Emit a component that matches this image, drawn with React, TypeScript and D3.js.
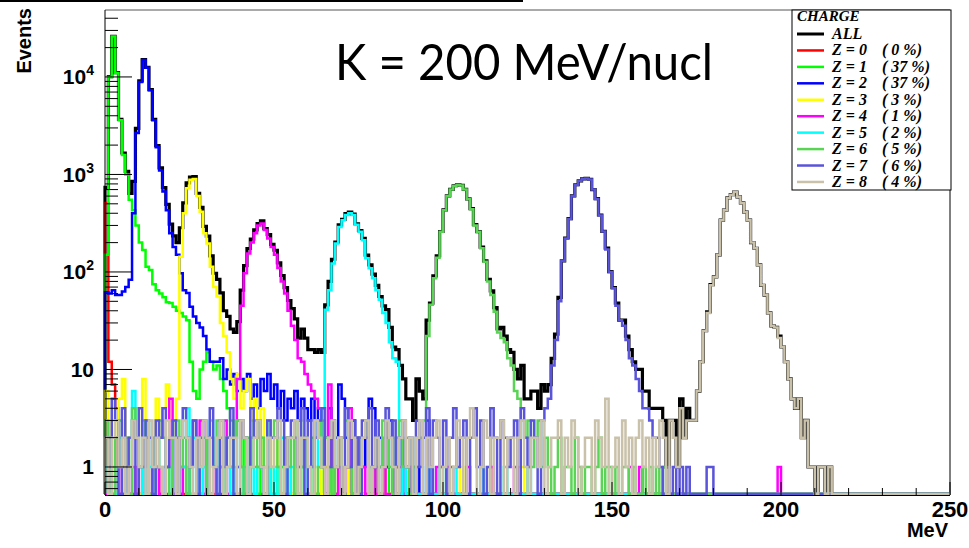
import React from 'react';
import * as d3 from 'd3';

// Energy deposit spectra per fragment charge, 1 MeV bins from 0 MeV.
const N_BINS = 250;
const BIN_WIDTH = 1;
const X_DOMAIN: [number, number] = [0, 250];
const Y_DOMAIN: [number, number] = [0.516, 48600];
const X_MAJOR = [0, 50, 100, 150, 200, 250];
const Y_MAJOR = [1, 10, 100, 1000, 10000];

const Z0 = [510, 12, 7, 4, 0, 0, 1, 0, 0, 0, 0, 0, 0, 0, 0, 1];

const Z1 = [
  150, 10000, 26000, 11000, 3600, 1580, 1000, 550, 430, 300,
  200, 168, 113, 105, 75, 65, 60, 55, 49, 48,
  44, 40, 38, 35, 32, 12, 6, 5, 10, 12,
  15, 12, 10, 11, 8, 6, 4, 3, 2, 3,
  1, 2, 0, 1, 1, 0, 2, 1, 0, 1,
  0, 1, 1, 0, 0, 2, 1, 0, 1, 0,
  0, 1, 0, 0, 1, 0, 0, 3, 0, 1,
  0, 0, 1, 0, 0, 1, 0, 0, 0, 1,
  0, 0, 0, 1,
];

const Z2 = [
  62, 60, 65, 58, 58, 63, 70, 83, 400, 2660,
  8900, 14900, 12400, 7300, 3600, 1900, 1100, 670, 430, 250,
  180, 150, 97, 65, 61, 44, 35, 30, 27, 22,
  16, 12, 12, 12, 13, 8, 10, 7, 9, 6,
  8, 6, 9, 5, 7, 4, 8, 6, 9, 5,
  7, 4, 6, 3, 5, 4, 6, 3, 5, 4,
  3, 5, 2, 4, 1, 2, 4, 3, 1, 7,
  5, 2, 1, 3, 0, 2, 1, 3, 5, 4,
  1, 2, 0, 1, 3, 0, 1, 2, 0, 1,
  0, 0, 1, 0, 0, 3, 1, 0, 0, 0,
];

const Z3 = [
  6, 2, 3, 0, 5, 8, 2, 1, 3, 4,
  0, 8, 2, 3, 1, 5, 2, 4, 7, 3,
  2, 5, 143, 400, 720, 880, 900, 600, 415, 250,
  196, 113, 70, 56, 30, 22, 15, 8, 5, 9,
  4, 6, 8, 3, 5, 2, 4, 1, 3, 1,
  2, 1, 0, 2, 1, 0, 1, 1, 0, 2,
  1, 0, 0, 1, 0, 1, 0, 0, 1, 0,
  0, 1, 0, 0, 0, 1, 0, 0, 0, 0,
  0, 0, 1, 0, 0, 0, 0, 1, 0, 0,
  0, 1, 0, 0, 0, 0, 0, 0, 0, 0,
  0, 0, 0, 0, 0, 1, 0, 0, 0, 0,
  0, 0, 0, 1, 1, 0, 0, 0, 0, 0,
  0, 0, 1, 1,
];

const Z4 = [
  0, 1, 0, 2, 1, 0, 1, 0, 1, 0,
  1, 0, 2, 0, 1, 1, 0, 0, 1, 5,
  0, 2, 0, 1, 0, 1, 3, 0, 3, 0,
  2, 0, 1, 0, 1, 3, 0, 1, 2, 8,
  45, 97, 155, 200, 250, 300, 315, 270, 220, 180,
  150, 110, 80, 60, 40, 28, 20, 13, 12, 9,
  7, 6, 5, 4, 1, 0, 7, 1, 0, 2,
  0, 1, 4, 0, 2, 1, 1, 0, 0, 1,
  0, 1, 1, 0, 0, 0, 1, 1, 0, 0,
  1, 0, 0, 0, 0, 0, 0, 0, 1, 0,
  0, 1, 1, 0, 0, 0, 0, 1, 0, 0,
  0, 0, 0, 0, 1, 0, 0, 0, 0, 0,
  0, 1, 0, 0, 0, 0, 0, 0, 0, 0,
  0, 0, 0, 0, 0, 0, 0, 0, 0, 0,
  0, 0, 0, 0, 0, 0, 0, 0, 0, 0,
  0, 0, 0, 0, 0, 1, 0, 0, 1, 0,
  0, 0, 0, 0, 0, 0, 0, 0, 0, 0,
  0, 0, 0, 0, 0, 0, 0, 0, 0, 0,
  0, 0, 0, 0, 0, 0, 0, 0, 0, 0,
  0, 0, 0, 0, 0, 0, 0, 0, 0, 1,
];

const Z5 = [
  1, 0, 1, 0, 2, 1, 0, 1, 6, 2,
  1, 0, 3, 1, 0, 2, 1, 0, 1, 0,
  2, 0, 1, 1, 4, 0, 2, 1, 0, 1,
  0, 3, 1, 0, 2, 0, 1, 0, 2, 1,
  0, 1, 0, 2, 0, 1, 1, 0, 3, 0,
  1, 0, 2, 1, 0, 1, 0, 0, 1, 2,
  0, 1, 3, 1, 4, 41, 65, 122, 196, 290,
  340, 385, 400, 385, 305, 258, 212, 138, 109, 86,
  65, 52, 38, 30, 19, 13, 12, 0, 1, 0,
  0, 1, 0, 0, 0, 1, 0, 0, 0, 1,
  0, 0, 0, 1, 0, 0, 0, 0, 0, 0,
  0, 1, 0, 0, 0, 0, 0, 0, 1, 0,
  0, 0, 0, 0, 0, 1,
];

const Z6 = [
  3, 2, 0, 2, 3, 1, 2, 0, 4, 2,
  1, 3, 2, 0, 2, 1, 3, 2, 1, 0,
  2, 3, 1, 2, 0, 1, 3, 2, 1, 2,
  0, 2, 1, 3, 1, 0, 2, 1, 2, 3,
  1, 0, 2, 1, 3, 1, 2, 0, 1, 2,
  3, 1, 0, 2, 1, 2, 0, 3, 1, 2,
  1, 2, 0, 1, 3, 2, 1, 0, 2, 1,
  2, 3, 1, 0, 2, 1, 2, 3, 0, 1,
  2, 1, 3, 2, 1, 0, 2, 3, 1, 2,
  0, 1, 2, 2, 3, 22, 46, 86, 140, 258,
  430, 600, 700, 760, 780, 770, 700, 560, 440, 300,
  258, 175, 127, 80, 58, 39, 24, 21, 19, 13,
  11, 6, 5, 3, 2, 3, 1, 2, 3, 1,
  2, 1, 0, 1, 2, 0, 1, 1, 0, 2,
  1, 0, 1, 1, 0, 1, 2, 0, 1, 1,
  0, 1, 0, 1, 1, 0, 1, 0, 0, 1,
  0, 1, 0, 1, 0, 1,
];

const Z7 = [
  2, 1, 5, 3, 0, 4, 1, 2, 3, 0,
  4, 1, 3, 2, 0, 3, 2, 4, 1, 2,
  3, 0, 2, 4, 2, 1, 3, 0, 2, 3,
  2, 4, 1, 0, 3, 1, 2, 4, 0, 1,
  3, 2, 0, 4, 2, 3, 1, 0, 3, 2,
  2, 4, 3, 0, 2, 3, 2, 1, 4, 0,
  3, 1, 2, 3, 4, 0, 1, 3, 2, 1,
  0, 4, 1, 3, 2, 0, 3, 2, 4, 1,
  3, 0, 1, 4, 2, 3, 0, 2, 3, 1,
  2, 0, 3, 1, 2, 4, 0, 3, 2, 1,
  3, 0, 2, 4, 1, 2, 3, 0, 2, 4,
  1, 3, 0, 1, 4, 2, 0, 3, 2, 1,
  2, 3, 0, 4, 2, 1, 3, 2, 0, 3,
  4, 5, 11, 20, 50, 130, 220, 350, 600, 780,
  860, 900, 910, 890, 700, 560, 380, 260, 170, 100,
  68, 45, 32, 28, 20, 13, 11, 8, 6, 4,
  4, 3, 2, 2, 1, 0, 1, 0, 1, 0,
  1, 0, 1, 0, 0, 0, 0, 0, 1, 1,
];

const Z8 = [
  2, 0, 2, 3, 1, 2, 0, 1, 3, 2,
  1, 2, 0, 3, 1, 2, 1, 0, 3, 2,
  2, 0, 2, 3, 2, 1, 0, 2, 1, 3,
  2, 0, 1, 2, 3, 0, 1, 2, 2, 0,
  3, 2, 0, 1, 2, 3, 1, 0, 2, 1,
  2, 3, 0, 1, 2, 2, 3, 0, 2, 2,
  1, 0, 3, 2, 1, 0, 2, 3, 1, 2,
  0, 1, 3, 2, 0, 1, 2, 3, 0, 1,
  2, 0, 1, 3, 2, 1, 0, 2, 3, 1,
  2, 0, 2, 3, 0, 2, 1, 2, 3, 0,
  1, 2, 0, 1, 3, 2, 0, 2, 4, 2,
  0, 1, 3, 2, 0, 2, 2, 3, 0, 2,
  2, 0, 2, 3, 1, 0, 2, 2, 1, 3,
  0, 1, 2, 2, 3, 0, 2, 1, 3, 2,
  0, 1, 2, 2, 0, 3, 2, 1, 5, 0,
  1, 2, 0, 3, 1, 2, 0, 2, 3, 1,
  2, 0, 2, 1, 3, 2, 0, 3, 2, 1,
  4, 2, 3, 3, 3, 6, 12, 25, 38, 73,
  89, 150, 340, 430, 575, 620, 660, 590, 510, 410,
  340, 200, 175, 118, 73, 58, 38, 28, 27, 21,
  17, 12, 8, 5, 4, 5, 2, 3, 1, 1,
  0, 1, 1, 0, 1,
];

const SERIES = [
  { label: 'Z = 0', share: '( 0 %)', color: '#ff0000', counts: Z0 },
  { label: 'Z = 1', share: '( 37 %)', color: '#00ff00', counts: Z1 },
  { label: 'Z = 2', share: '( 37 %)', color: '#0000ff', counts: Z2 },
  { label: 'Z = 3', share: '( 3 %)', color: '#ffff00', counts: Z3 },
  { label: 'Z = 4', share: '( 1 %)', color: '#ff00ff', counts: Z4 },
  { label: 'Z = 5', share: '( 2 %)', color: '#00ffff', counts: Z5 },
  { label: 'Z = 6', share: '( 5 %)', color: '#59d454', counts: Z6 },
  { label: 'Z = 7', share: '( 6 %)', color: '#5954d9', counts: Z7 },
  { label: 'Z = 8', share: '( 4 %)', color: '#c9c1a9', counts: Z8 },
];

// The inclusive spectrum is the bin-by-bin sum over all charges.
const ALL = d3.range(N_BINS).map((i) => d3.sum(SERIES, (s) => s.counts[i] ?? 0));

const W = 969;
const H = 548;
const FRAME = { left: 105, right: 950, top: 10, bottom: 495 };
const ZERO_Y = FRAME.bottom - 1;

const x = d3.scaleLinear().domain(X_DOMAIN).range([FRAME.left, FRAME.right]);
const y = d3.scaleLog().domain(Y_DOMAIN).range([FRAME.bottom, FRAME.top]);

const stepLine = d3
  .line<[number, number]>()
  .x((d) => x(d[0]))
  .y((d) => (d[1] > 0 ? y(d[1]) : ZERO_Y))
  .curve(d3.curveStepAfter);

function histPath(counts: number[]): string {
  const pts: [number, number][] = [[0, 0]];
  for (let i = 0; i < N_BINS; i++) pts.push([i * BIN_WIDTH, counts[i] ?? 0]);
  pts.push([N_BINS * BIN_WIDTH, counts[N_BINS - 1] ?? 0]);
  pts.push([N_BINS * BIN_WIDTH, 0]);
  return stepLine(pts) ?? '';
}

const AXIS_FONT = '"Liberation Sans", Arial, Helvetica, sans-serif';
const LEGEND_FONT = '"Liberation Serif", "Times New Roman", serif';

export default function App() {
  const yMinor: number[] = [];
  for (let e = -1; e <= 4; e++) {
    for (let k = 2; k <= 9; k++) {
      const v = k * Math.pow(10, e);
      if (v >= Y_DOMAIN[0] && v <= Y_DOMAIN[1]) yMinor.push(v);
    }
  }
  const xMinor = d3.range(X_DOMAIN[0], X_DOMAIN[1] + 1, 10).filter((v) => v % 50 !== 0);

  const legendX = 792;
  const legendRow0 = 34;
  const legendStep = 16.44;
  const legendRows = [{ label: 'ALL', share: '', color: '#000000', width: 3 }].concat(
    SERIES.map((s) => ({ label: s.label, share: s.share, color: s.color, width: 2.5 }))
  );

  return (
    <svg
      width={W}
      height={H}
      viewBox={`0 0 ${W} ${H}`}
      style={{ position: 'absolute', left: 0, top: 0, background: '#ffffff' }}
    >
      <rect x={0} y={0} width={W} height={H} fill="#ffffff" />
      <rect x={0} y={0} width={523} height={2} fill="#000000" />

      {/* frame */}
      <line x1={FRAME.left} x2={FRAME.right} y1={FRAME.top} y2={FRAME.top} stroke="#555" strokeWidth={1} />
      <line x1={FRAME.right} x2={FRAME.right} y1={FRAME.top} y2={FRAME.bottom} stroke="#000" strokeWidth={1} />

      {/* histograms: inclusive first, then each charge on top */}
      <path d={histPath(ALL)} fill="none" stroke="#000000" strokeWidth={3.2} strokeLinejoin="miter" />
      {SERIES.map((s) => (
        <path
          key={s.label}
          d={histPath(s.counts)}
          fill="none"
          stroke={s.color}
          strokeWidth={2.5}
          strokeLinejoin="miter"
        />
      ))}

      {/* axes */}
      <line x1={FRAME.left} x2={FRAME.left} y1={FRAME.top} y2={FRAME.bottom} stroke="#000" strokeWidth={1} />
      <line x1={FRAME.left} x2={FRAME.right} y1={FRAME.bottom + 0.5} y2={FRAME.bottom + 0.5} stroke="#000" strokeWidth={1} />

      {Y_MAJOR.map((v) => (
        <line key={`ym${v}`} x1={FRAME.left} x2={FRAME.left + 27} y1={y(v)} y2={y(v)} stroke="#000" strokeWidth={1} />
      ))}
      {yMinor.map((v) => (
        <line key={`yn${v}`} x1={FRAME.left} x2={FRAME.left + 13} y1={y(v)} y2={y(v)} stroke="#000" strokeWidth={1} />
      ))}
      {X_MAJOR.map((v) => (
        <line key={`xm${v}`} x1={x(v)} x2={x(v)} y1={FRAME.bottom} y2={FRAME.bottom - 13} stroke="#000" strokeWidth={1} />
      ))}
      {xMinor.map((v) => (
        <line key={`xn${v}`} x1={x(v)} x2={x(v)} y1={FRAME.bottom} y2={FRAME.bottom - 7} stroke="#000" strokeWidth={1} />
      ))}

      {/* y tick labels */}
      {Y_MAJOR.map((v) => {
        const exp = Math.round(Math.log10(v));
        return (
          <text
            key={`yl${v}`}
            x={94}
            y={y(v) + 7.5}
            textAnchor="end"
            fontFamily={AXIS_FONT}
            fontWeight="bold"
            fontSize={21}
            fill="#000"
          >
            {exp === 0 ? '1' : exp === 1 ? '10' : (
              <>
                <tspan>10</tspan>
                <tspan dy={-9} fontSize={14}>{exp}</tspan>
              </>
            )}
          </text>
        );
      })}

      {/* x tick labels */}
      {X_MAJOR.map((v) => (
        <text
          key={`xl${v}`}
          x={x(v)}
          y={517}
          textAnchor="middle"
          fontFamily={AXIS_FONT}
          fontWeight="bold"
          fontSize={22}
          fill="#000"
        >
          {v}
        </text>
      ))}

      <text x={948} y={537} textAnchor="end" fontFamily={AXIS_FONT} fontWeight="bold" fontSize={20} fill="#000">
        MeV
      </text>
      <text
        transform="translate(31, 8) rotate(-90)"
        textAnchor="end"
        fontFamily={AXIS_FONT}
        fontWeight="bold"
        fontSize={20}
        fill="#000"
      >
        Events
      </text>

      <text
        x={335}
        y={80}
        fontFamily='Lato, "Open Sans", sans-serif'
        fontSize={50}
        textLength={378}
        lengthAdjust="spacingAndGlyphs"
        fill="#000"
      >
        K = 200 MeV/nucl
      </text>

      {/* legend */}
      <rect x={legendX} y={FRAME.top} width={FRAME.right + 1 - legendX} height={190 - FRAME.top} fill="#fff" stroke="#000" strokeWidth={1} />
      <text x={797} y={21} fontFamily={LEGEND_FONT} fontWeight="bold" fontStyle="italic" fontSize={15} fill="#000">
        CHARGE
      </text>
      {legendRows.map((r, i) => {
        const cy = legendRow0 + i * legendStep;
        return (
          <g key={`lg${r.label}`}>
            <line x1={797} x2={824} y1={cy} y2={cy} stroke={r.color} strokeWidth={r.width} />
            <text x={832} y={cy + 5} fontFamily={LEGEND_FONT} fontWeight="bold" fontStyle="italic" fontSize={16} fill="#000">
              {r.label}
            </text>
            {r.share && (
              <text x={882} y={cy + 5} fontFamily={LEGEND_FONT} fontWeight="bold" fontStyle="italic" fontSize={16} fill="#000" xmlSpace="preserve">
                {r.share}
              </text>
            )}
          </g>
        );
      })}
    </svg>
  );
}
